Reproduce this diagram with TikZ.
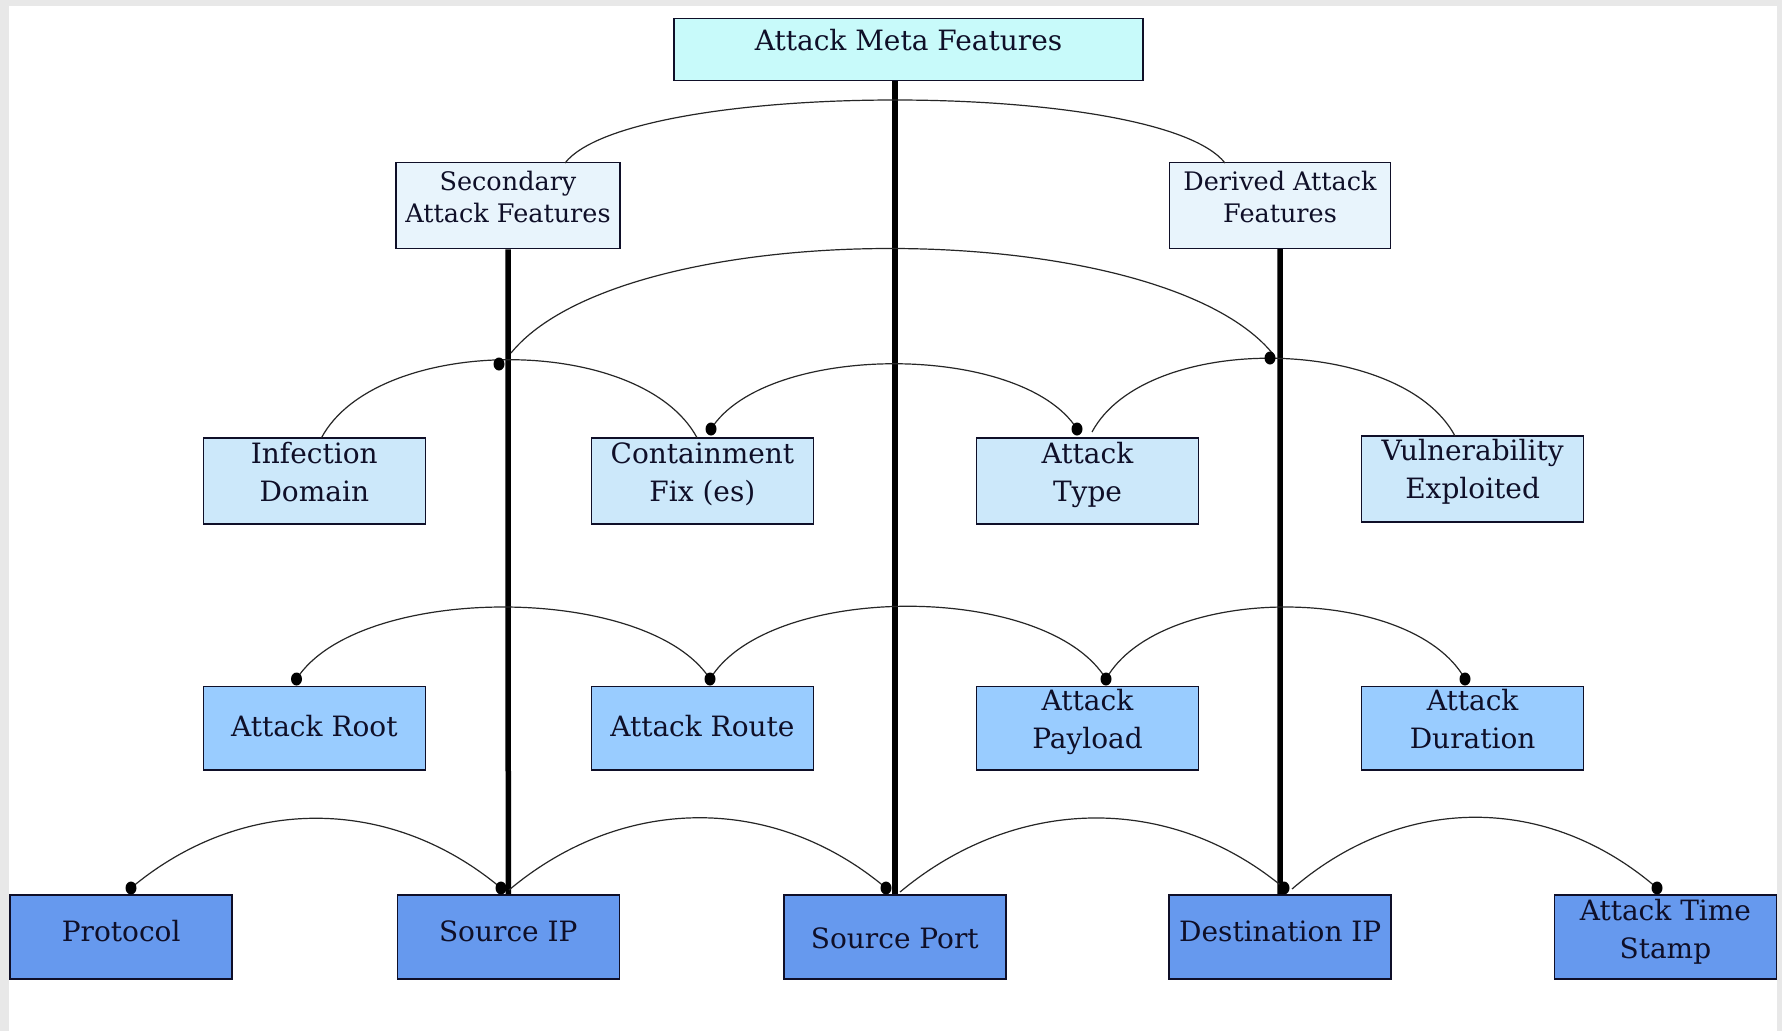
\documentclass[tikz,border=0pt]{standalone}
\usepackage{fontspec}
\setmainfont{DejaVu Serif}
\usetikzlibrary{calc}
\definecolor{bggray}{RGB}{232,232,232}
\definecolor{metafill}{RGB}{200,250,250}
\definecolor{secfill}{RGB}{232,244,252}
\definecolor{rowtwo}{RGB}{204,232,250}
\definecolor{rowthree}{RGB}{153,204,255}
\definecolor{rowfour}{RGB}{102,153,238}
\definecolor{ink}{RGB}{15,15,40}
\newcommand\twoline[2]{\begin{tabular}[t]{@{}c@{}}#1\\#2\end{tabular}}
\newcommand\conn[4]{\draw[arcline] (#1) .. controls ($(#1)+(#3,-#4)$) and ($(#2)+(-#3,-#4)$) .. (#2);}
\begin{document}
\begin{tikzpicture}[x=1pt,y=-1pt,
  box/.style={draw=ink, line width=1.5pt, inner sep=0pt, minimum width=222pt, minimum height=85pt},
  lbl/.style={anchor=base, inner sep=0pt, text=ink, font=\fontsize{28}{38.4}\selectfont},
  lblsmall/.style={lbl, font=\fontsize{25.5}{32}\selectfont},
  trunk/.style={line width=5.5pt, draw=black},
  arcline/.style={line width=1.2pt, draw=black!85},
  dotmark/.style={fill=black}
]
\useasboundingbox (0,0) rectangle (1782,1031);
\fill[bggray] (0,0) rectangle (1782,1031);
\fill[white] (9,6) rectangle (1777,1031);

% boxes
\node[box, fill=metafill, minimum width=469pt, minimum height=62pt] (meta) at (908.5,49.5) {};
\node[box, fill=secfill, minimum width=224pt, minimum height=86pt] (sec) at (508,205.5) {};
\node[box, fill=secfill, minimum width=221pt, minimum height=86pt] (der) at (1280,205.3) {};

\node[box, fill=rowtwo, minimum height=86pt] (inf) at (314.3,480.8) {};
\node[box, fill=rowtwo, minimum height=86pt] (con) at (702.4,480.8) {};
\node[box, fill=rowtwo, minimum height=86pt] (atype) at (1087.5,480.8) {};
\node[box, fill=rowtwo, minimum height=86pt] (vul) at (1472.6,478.8) {};

\node[box, fill=rowthree, minimum height=83.5pt] (root) at (314.3,728.3) {};
\node[box, fill=rowthree, minimum height=83.5pt] (route) at (702.4,728.3) {};
\node[box, fill=rowthree, minimum height=83.5pt] (payload) at (1087.5,728.3) {};
\node[box, fill=rowthree, minimum height=83.5pt] (dur) at (1472.6,728.3) {};

\node[box, fill=rowfour, minimum height=84pt] (proto) at (121.2,937) {};
\node[box, fill=rowfour, minimum height=84pt] (sip) at (508.3,937) {};
\node[box, fill=rowfour, minimum height=84pt] (sport) at (894.8,937) {};
\node[box, fill=rowfour, minimum height=84pt] (dip) at (1280.2,937) {};
\node[box, fill=rowfour, minimum height=84pt] (ats) at (1665.4,937) {};

% labels
\node[lbl] (meta-t) at (908.5,50) {Attack Meta Features};
\node[lblsmall] (sec-t) at (508,190) {\twoline{Secondary}{Attack Features}};
\node[lblsmall] (der-t) at (1280,190) {\twoline{Derived Attack}{Features}};
\node[lbl] (inf-t) at (314.3,463.3) {\twoline{Infection}{Domain}};
\node[lbl] (con-t) at (702.4,463.3) {\twoline{Containment}{Fix (es)}};
\node[lbl] (atype-t) at (1087.5,463) {\twoline{Attack}{Type}};
\node[lbl] (vul-t) at (1472.6,460) {\twoline{Vulnerability}{Exploited}};
\node[lbl] (root-t) at (314.3,736.7) {Attack Root};
\node[lbl] (route-t) at (702.4,736.7) {Attack Route};
\node[lbl] (payload-t) at (1087.5,710) {\twoline{Attack}{Payload}};
\node[lbl] (dur-t) at (1472.6,710) {\twoline{Attack}{Duration}};
\node[lbl] (proto-t) at (121.2,941.7) {Protocol};
\node[lbl] (sip-t) at (508.3,941.7) {Source IP};
\node[lbl] (sport-t) at (894.8,948) {Source Port};
\node[lbl] (dip-t) at (1280.2,941.7) {Destination IP};
\node[lbl] (ats-t) at (1665.4,920) {\twoline{Attack Time}{Stamp}};

% trunks
\draw[trunk] (sec.south) -- (sip.north);
\draw[trunk] (meta.south -| sport.north) -- (sport.north);
\draw[trunk] (der.south) -- (dip.north);

% arc end points
\coordinate (a1s) at (565,163);
\coordinate (a1e) at (1225,163);
\coordinate (a2s) at (511,353);
\coordinate (a2e) at (1273,354);
\coordinate (sec-j) at (499,364);
\coordinate (der-j) at (1270,358);
\coordinate (inf-top) at (321.5,437.7);
\coordinate (con-top) at (697,437.7);
\coordinate (con-dot) at (711,429);
\coordinate (atype-dot) at (1077,429);
\coordinate (atype-r) at (1092,432);
\coordinate (vul-top) at (1455,436);
\coordinate (root-dot) at (296.5,679);
\coordinate (route-dot) at (710,679);
\coordinate (pay-dot) at (1106,679);
\coordinate (dur-dot) at (1465,679);
\coordinate (proto-dot) at (131,888);
\coordinate (sip-dot) at (501,888);
\coordinate (sip-r) at (509,890);
\coordinate (sport-dot) at (886,888);
\coordinate (sport-r) at (900,892);
\coordinate (dip-dot) at (1284,888);
\coordinate (dip-r) at (1292,889);
\coordinate (ats-dot) at (1657,888);

% arcs
\conn{a1s}{a1e}{66}{84}
\conn{a2s}{a2e}{114}{140}
\conn{inf-top}{con-top}{56}{104}
\conn{con-dot}{atype-dot}{55}{87}
\conn{atype-r}{vul-top}{54}{101}
\conn{root-dot}{route-dot}{62}{96}
\conn{route-dot}{pay-dot}{59}{97}
\conn{pay-dot}{dur-dot}{54}{96}
\conn{proto-dot}{sip-dot}{111}{93}
\conn{sip-r}{sport-dot}{113}{95}
\conn{sport-r}{dip-dot}{115}{96}
\conn{dip-r}{ats-dot}{110}{95}

% dots
\foreach \p in {sec-j,der-j,con-dot,atype-dot,root-dot,route-dot,pay-dot,dur-dot,proto-dot,sip-dot,sport-dot,dip-dot,ats-dot}
  \fill[dotmark] (\p) ellipse [x radius=5.5pt, y radius=6.5pt];
\end{tikzpicture}
\end{document}
